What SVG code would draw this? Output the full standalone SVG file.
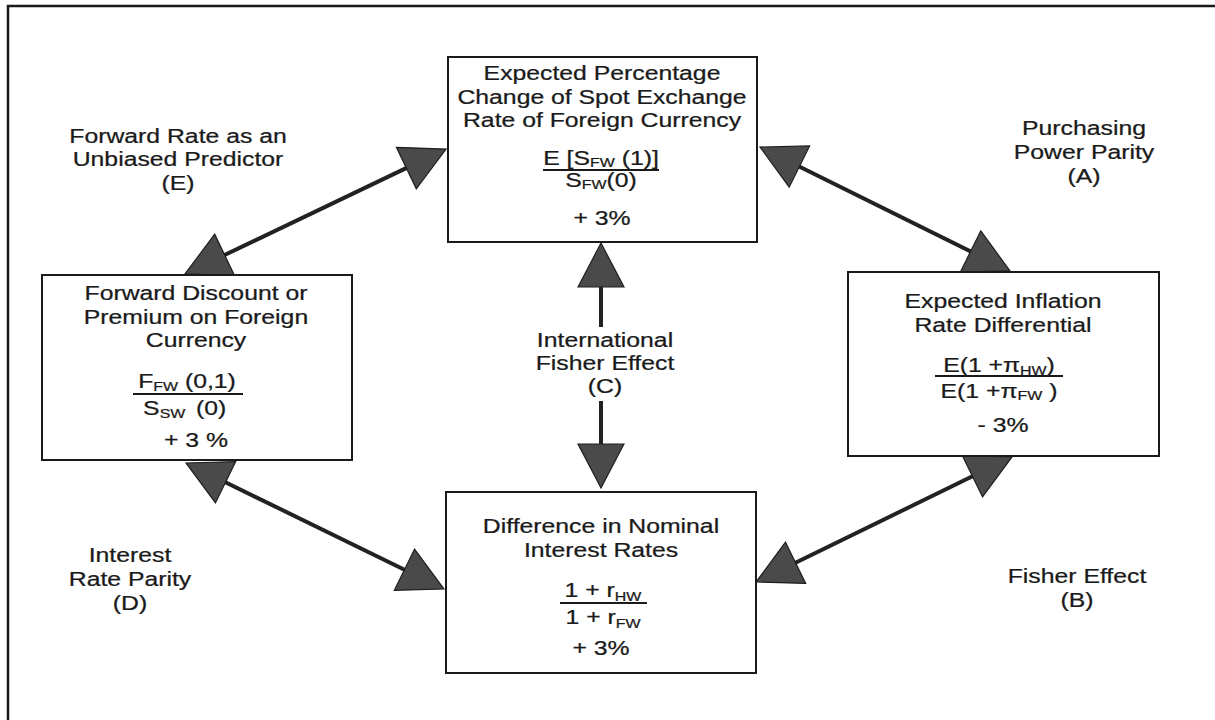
<svg xmlns="http://www.w3.org/2000/svg" width="1215" height="720" viewBox="0 0 1215 720">
<style>
  text { font-family: "Liberation Sans", Arial, sans-serif; font-size: 21px; fill: #1a1a1a; stroke: #1a1a1a; stroke-width: 0.25; text-anchor: middle; }
  .sub { font-size: 13.5px; }
  .box { fill: #ffffff; stroke: #1a1a1a; stroke-width: 2; }
  .frac { stroke: #1a1a1a; stroke-width: 1.8; }
  .conn { stroke: #222222; stroke-width: 4; fill: none; }
</style>
<defs>
  <marker id="head" markerUnits="userSpaceOnUse" markerWidth="50" markerHeight="50" refX="20" refY="23" orient="auto-start-reverse" overflow="visible">
    <path d="M0,0 L44,23 L0,46 Z" fill="#4a4a4a" stroke="#1e1e1e" stroke-width="1.2" stroke-linejoin="miter"/>
  </marker>
</defs>
<rect width="1215" height="720" fill="#ffffff"/>
<path d="M8,720 V6 H1215" fill="none" stroke="#1a1a1a" stroke-width="2.5"/>

<g id="connectors">
  <line class="conn" x1="206.6" y1="263.6" x2="424.4" y2="159.4" marker-start="url(#head)" marker-end="url(#head)"/>
  <line class="conn" x1="781.5" y1="157.7" x2="988.5" y2="260.3" marker-start="url(#head)" marker-end="url(#head)"/>
  <line class="conn" x1="207.6" y1="473.5" x2="422.4" y2="578.5" marker-start="url(#head)" marker-end="url(#head)"/>
  <line class="conn" x1="777.6" y1="571.5" x2="990.4" y2="467.5" marker-start="url(#head)" marker-end="url(#head)"/>
  <line class="conn" x1="601" y1="267" x2="601" y2="327" marker-start="url(#head)"/>
  <line class="conn" x1="601" y1="401" x2="601" y2="464" marker-end="url(#head)"/>
</g>

<g id="node-spot">
  <rect class="box" x="448" y="57" width="309" height="185"/>
  <g transform="translate(602 0) scale(1.18 1)">
    <text x="0" y="80">Expected Percentage</text>
    <text x="0" y="104">Change of Spot Exchange</text>
    <text x="0" y="127">Rate of Foreign Currency</text>
    <text x="0" y="225">+ 3%</text>
  </g>
  <g transform="translate(601 0) scale(1.18 1)">
    <text x="0" y="165">E [S<tspan class="sub" dy="2">FW</tspan><tspan dy="-2"> (1)]</tspan></text>
    <text x="0" y="187">S<tspan class="sub" dy="2">FW</tspan><tspan dy="-2">(0)</tspan></text>
  </g>
  <line class="frac" x1="543" y1="170" x2="659" y2="170"/>
</g>

<g id="node-forward">
  <rect class="box" x="42" y="275" width="310" height="185"/>
  <g transform="translate(196 0) scale(1.18 1)">
    <text x="0" y="300">Forward Discount or</text>
    <text x="0" y="324">Premium on Foreign</text>
    <text x="0" y="347">Currency</text>
    <text x="0" y="447">+ 3 %</text>
  </g>
  <g transform="translate(187 0) scale(1.18 1)">
    <text x="0" y="388">F<tspan class="sub" dy="3">FW</tspan><tspan dy="-3"> (0,1)</tspan></text>
    <text x="-2" y="415">S<tspan class="sub" dy="3">SW</tspan><tspan dy="-3" dx="9">(0)</tspan></text>
  </g>
  <line class="frac" x1="133" y1="394" x2="243" y2="394"/>
</g>

<g id="node-inflation">
  <rect class="box" x="848" y="272" width="311" height="184"/>
  <g transform="translate(1003 0) scale(1.18 1)">
    <text x="0" y="308">Expected Inflation</text>
    <text x="0" y="332">Rate Differential</text>
    <text x="0" y="432">- 3%</text>
  </g>
  <g transform="translate(999 0) scale(1.18 1)">
    <text x="0" y="372">E(1 +π<tspan class="sub" dy="3">HW</tspan><tspan dy="-3">)</tspan></text>
    <text x="0" y="398">E(1 +π<tspan class="sub" dy="2">FW</tspan><tspan dy="-2"> )</tspan></text>
  </g>
  <line class="frac" x1="935" y1="376" x2="1063" y2="376"/>
</g>

<g id="node-interest">
  <rect class="box" x="446" y="492" width="310" height="181"/>
  <g transform="translate(601 0) scale(1.18 1)">
    <text x="0" y="533">Difference in Nominal</text>
    <text x="0" y="557">Interest Rates</text>
    <text x="0" y="655">+ 3%</text>
  </g>
  <g transform="translate(603 0) scale(1.18 1)">
    <text x="0" y="597">1 + r<tspan class="sub" dy="4">HW</tspan></text>
    <text x="0" y="624">1 + r<tspan class="sub" dy="4">FW</tspan></text>
  </g>
  <line class="frac" x1="560" y1="603" x2="647" y2="603"/>
</g>

<g id="label-E" transform="translate(178 0) scale(1.18 1)">
  <text x="0" y="143">Forward Rate as an</text>
  <text x="0" y="166">Unbiased Predictor</text>
  <text x="0" y="190">(E)</text>
</g>
<g id="label-A" transform="translate(1084 0) scale(1.18 1)">
  <text x="0" y="135">Purchasing</text>
  <text x="0" y="159">Power Parity</text>
  <text x="0" y="183">(A)</text>
</g>
<g id="label-C" transform="translate(605 0) scale(1.18 1)">
  <text x="0" y="347">International</text>
  <text x="0" y="370">Fisher Effect</text>
  <text x="0" y="393">(C)</text>
</g>
<g id="label-D" transform="translate(130 0) scale(1.18 1)">
  <text x="0" y="562">Interest</text>
  <text x="0" y="586">Rate Parity</text>
  <text x="0" y="610">(D)</text>
</g>
<g id="label-B" transform="translate(1077 0) scale(1.18 1)">
  <text x="0" y="583">Fisher Effect</text>
  <text x="0" y="607">(B)</text>
</g>
</svg>
